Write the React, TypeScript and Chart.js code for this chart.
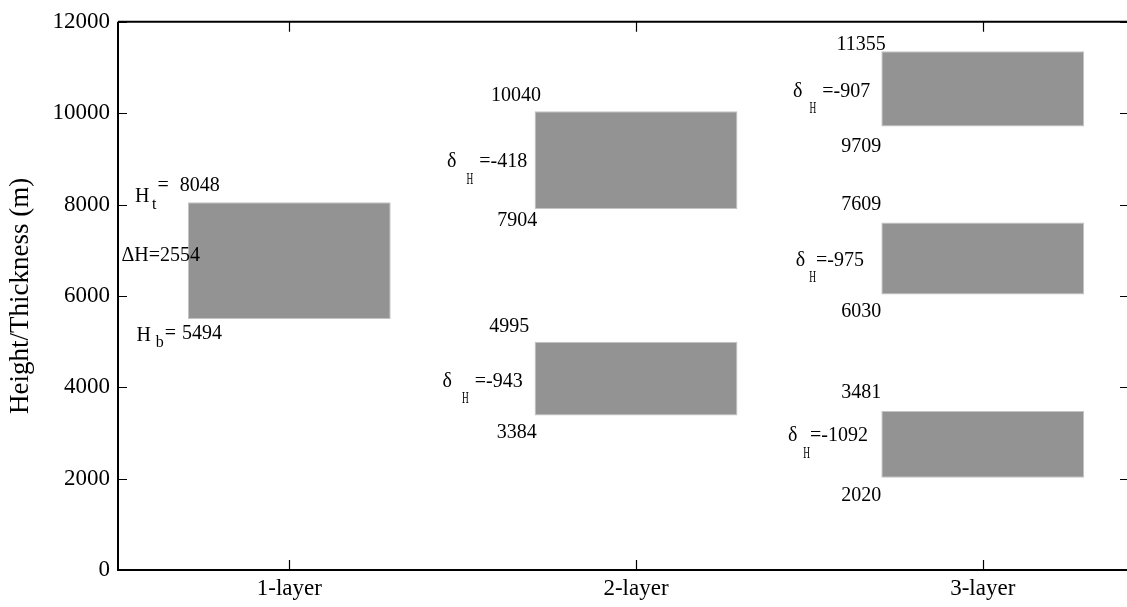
import React, { useEffect, useRef } from "react";
import { Chart, registerables } from "chart.js";

Chart.register(...registerables);

// ---- data ----
const categories = ["1-layer", "2-layer", "3-layer"];
const categoryPositions = [1, 2, 3];
// one entry per grey block
const barCategory = [1, 2, 2, 3, 3, 3];
const barTop = [8048, 10040, 4995, 11355, 7609, 3481];
const barBottom = [5494, 7904, 3384, 9709, 6030, 2020];
const deltaH: (number | null)[] = [null, -418, -943, -907, -975, -1092];
const yTicks = [0, 2000, 4000, 6000, 8000, 10000, 12000];
const yTitle = "Height/Thickness (m)";

// ---- annotation anchors (data coordinates: [x, y]) ----
const topLabelAt = [[0.555, 8160], [1.582, 10372], [1.577, 5324], [2.578, 11505], [2.592, 8003], [2.592, 3872]];
const bottomLabelAt = [[0.559, 5135], [1.600, 7639], [1.598, 2994], [2.592, 9273], [2.592, 5651], [2.592, 1622]];
const middleLabelAt = [[0.516, 6871], [1.455, 8929], [1.442, 4131], [2.453, 10470], [2.461, 6777], [2.438, 2929]];
const deltaGapBefore = [0, 10, 10, 7, 4, 6];
const deltaGapAfter = [0, 6, 6, 6, 0, 0];

const X_MIN = 0.506;
const X_MAX = 3.416;

const SERIF = '"Liberation Serif", "Times New Roman", serif';

type Seg = { t: string; sub?: boolean; dy?: number; gap?: number; sx?: number; size?: number };

function drawSegs(ctx: CanvasRenderingContext2D, x: number, y: number, segs: Seg[]) {
  let cx = x;
  for (const s of segs) {
    const size = s.size ?? (s.sub ? 16 : 20);
    const sx = s.sx ?? 1;
    ctx.font = `${size}px ${SERIF}`;
    cx += s.gap ?? 0;
    const w = ctx.measureText(s.t).width * sx;
    ctx.save();
    ctx.translate(cx, y + (s.dy ?? 0));
    ctx.scale(sx, 1);
    ctx.fillText(s.t, 0, 0);
    ctx.restore();
    cx += w;
  }
}

const framePlugin = {
  id: "frameAndLabels",
  afterDatasetsDraw(chart: any) {
    const { ctx, chartArea } = chart;
    const { left, right, top, bottom } = chartArea;
    const xs = chart.scales.x;
    const ys = chart.scales.y;
    ctx.save();
    ctx.strokeStyle = "#000";
    ctx.lineWidth = 2;
    ctx.beginPath();
    ctx.moveTo(left, top);
    ctx.lineTo(left, bottom);
    ctx.lineTo(right, bottom);
    ctx.moveTo(left, top);
    ctx.lineTo(right, top);
    ctx.stroke();
    ctx.lineWidth = 1.2;
    ctx.beginPath();
    for (const v of yTicks) {
      const py = Math.round(ys.getPixelForValue(v)) + 0.5;
      ctx.moveTo(left, py);
      ctx.lineTo(left + 9, py);
      ctx.moveTo(right - 7, py);
      ctx.lineTo(right, py);
    }
    for (const v of categoryPositions) {
      const px = Math.round(xs.getPixelForValue(v)) + 0.5;
      ctx.moveTo(px, bottom);
      ctx.lineTo(px, bottom - 10);
      ctx.moveTo(px, top);
      ctx.lineTo(px, top + 10);
    }
    ctx.stroke();

    // annotations
    ctx.fillStyle = "#000";
    ctx.textAlign = "left";
    ctx.textBaseline = "middle";
    for (let i = 0; i < barTop.length; i++) {
      const tp = topLabelAt[i];
      const bp = bottomLabelAt[i];
      const mp = middleLabelAt[i];
      const tx = xs.getPixelForValue(tp[0]);
      const ty = ys.getPixelForValue(tp[1]);
      const bx = xs.getPixelForValue(bp[0]);
      const by = ys.getPixelForValue(bp[1]);
      const mx = xs.getPixelForValue(mp[0]);
      const my = ys.getPixelForValue(mp[1]);
      const d = deltaH[i];
      if (d === null) {
        drawSegs(ctx, tx, ty, [
          { t: "H" },
          { t: "t", sub: true, dy: 7.5, gap: 2.5 },
          { t: "=", dy: -11, gap: 1 },
          { t: String(barTop[i]), dy: -11, gap: 11 },
        ]);
        drawSegs(ctx, bx, by, [
          { t: "H" },
          { t: "b", sub: true, dy: 7.5, gap: 5 },
          { t: "=", dy: -1.5, gap: 1 },
          { t: String(barBottom[i]), dy: -1.5, gap: 6 },
        ]);
        drawSegs(ctx, mx, my, [{ t: "\u0394H=" + (barTop[i] - barBottom[i]) }]);
      } else {
        drawSegs(ctx, tx, ty, [{ t: String(barTop[i]) }]);
        drawSegs(ctx, bx, by, [{ t: String(barBottom[i]) }]);
        drawSegs(ctx, mx, my, [
          { t: "\u03b4" },
          { t: "H", sub: true, size: 17, sx: 0.55, dy: 17, gap: deltaGapBefore[i] },
          { t: "=" + d, gap: deltaGapAfter[i] },
        ]);
      }
    }
    ctx.restore();
  },
};

export default function App() {
  const ref = useRef<HTMLCanvasElement | null>(null);
  useEffect(() => {
    if (!ref.current) return;
    const chart = new Chart(ref.current, {
      type: "bar",
      data: {
        datasets: [
          {
            data: barCategory.map((c, i) => ({ x: c, y: [barBottom[i], barTop[i]] })) as any,
            backgroundColor: "#939393",
            borderColor: "#c4c4c4",
            borderWidth: 1,
            borderSkipped: false,
            categoryPercentage: 1,
            barPercentage: 0.585,
          },
        ],
      },
      options: {
        responsive: false,
        animation: false,
        devicePixelRatio: 1,
        layout: { padding: { top: 19, left: 0, right: 0, bottom: 0 } },
        plugins: { legend: { display: false }, tooltip: { enabled: false } },
        scales: {
          x: {
            type: "linear",
            min: X_MIN,
            max: X_MAX,
            offset: false,
            grid: { display: false, drawTicks: false, offset: false },
            border: { display: false },
            afterBuildTicks: (s: any) => {
              s.ticks = categoryPositions.map((v) => ({ value: v }));
            },
            afterFit: (s: any) => {
              s.height = 37;
            },
            ticks: {
              autoSkip: false,
              maxRotation: 0,
              padding: 5,
              color: "#000",
              font: { family: SERIF, size: 23 },
              callback: (v: any) => categories[categoryPositions.indexOf(Number(v))] ?? "",
            },
          },
          y: {
            type: "linear",
            min: 0,
            max: 12000,
            grid: { display: false, drawTicks: false },
            border: { display: false },
            afterBuildTicks: (s: any) => {
              s.ticks = yTicks.map((v) => ({ value: v }));
            },
            afterFit: (s: any) => {
              s.width = 118;
            },
            ticks: {
              padding: 8,
              color: "#000",
              font: { family: SERIF, size: 23 },
              callback: (v: any) => String(v),
            },
            title: {
              display: true,
              text: yTitle,
              color: "#000",
              font: { family: SERIF, size: 27 },
              padding: { top: 5, bottom: 0 },
            },
          },
        },
      },
      plugins: [framePlugin],
    });
    return () => chart.destroy();
  }, []);
  return (
    <div style={{ position: "fixed", left: 0, top: 0, width: 1127, height: 607, background: "#fff" }}>
      <canvas ref={ref} width={1127} height={607} style={{ display: "block" }} />
    </div>
  );
}
